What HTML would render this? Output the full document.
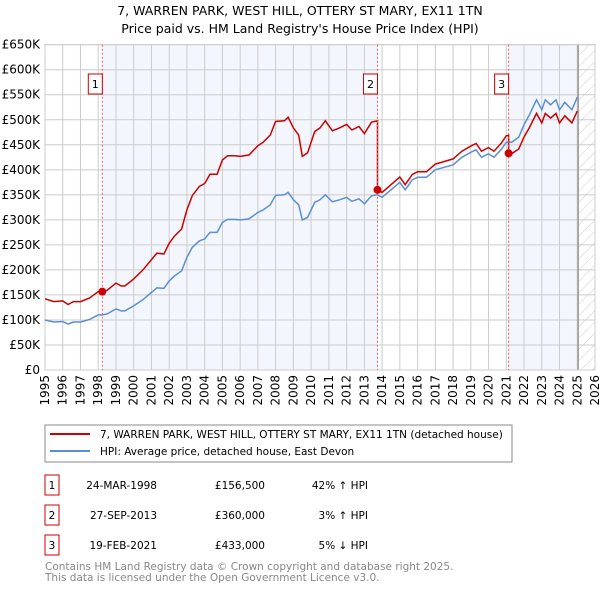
<!DOCTYPE html>
<html><head><meta charset="utf-8"><style>
body{margin:0;background:#fff;font-family:"DejaVu Sans","Liberation Sans",sans-serif;}
svg text{font-family:"DejaVu Sans","Liberation Sans",sans-serif;}
</style></head><body>
<svg id="chart" width="600" height="590" xmlns="http://www.w3.org/2000/svg">
<defs><pattern id="hatch" width="8" height="8" patternUnits="userSpaceOnUse" patternTransform="rotate(45)"><line x1="0" y1="0" x2="0" y2="8" stroke="#ccc" stroke-width="1"/></pattern></defs>
<text x="300" y="15" text-anchor="middle" font-size="12.5" fill="#000">7, WARREN PARK, WEST HILL, OTTERY ST MARY, EX11 1TN</text>
<text x="300" y="33" text-anchor="middle" font-size="12.5" fill="#000">Price paid vs. HM Land Registry's House Price Index (HPI)</text>
<g id="plot"></g>
<rect x="45" y="425" width="467" height="37" fill="#fff" stroke="#888"/>
<line x1="50" y1="434" x2="90" y2="434" stroke="#cc0000" stroke-width="2"/>
<text x="100" y="438" font-size="10.5">7, WARREN PARK, WEST HILL, OTTERY ST MARY, EX11 1TN (detached house)</text>
<line x1="50" y1="451" x2="90" y2="451" stroke="#5b8fd4" stroke-width="2"/>
<text x="100" y="455" font-size="10.5">HPI: Average price, detached house, East Devon</text>
<g id="table" font-size="10.5"></g>
<text x="45" y="570" font-size="10.5" fill="#888">Contains HM Land Registry data © Crown copyright and database right 2025.</text>
<text x="45" y="581" font-size="10.5" fill="#888">This data is licensed under the Open Government Licence v3.0.</text>
</svg>
<script>
const hpiYears=[1995,1995.5,1996,1996.3,1996.6,1997,1997.5,1998,1998.25,1998.5,1999,1999.3,1999.5,2000,2000.5,2001,2001.3,2001.7,2002,2002.3,2002.7,2003,2003.3,2003.7,2004,2004.3,2004.7,2005,2005.3,2005.7,2006,2006.5,2007,2007.3,2007.7,2008,2008.5,2008.7,2009,2009.3,2009.5,2009.8,2010.2,2010.5,2010.8,2011.2,2011.6,2012,2012.3,2012.7,2013,2013.4,2013.74,2014,2014.5,2015,2015.3,2015.7,2016,2016.5,2017,2017.5,2018,2018.5,2019,2019.3,2019.6,2020,2020.3,2020.7,2021,2021.13,2021.3,2021.7,2022,2022.3,2022.7,2023,2023.2,2023.5,2023.8,2024,2024.3,2024.7,2025];
const hpiValues=[100,96,97,92,96,96,101,110,110,112,122,118,118,128,140,155,164,163,178,188,198,225,245,258,262,275,275,295,301,301,300,302,315,320,330,349,350,355,340,330,300,305,335,340,350,336,340,345,337,342,332,348,350,345,360,375,360,380,385,385,400,405,410,425,435,440,425,432,425,440,455,456,455,465,490,510,540,520,540,530,540,520,535,520,545];
const saleYears=[1998.23,2013.74,2021.13];
const salePrices=[156.5,360,433];
const saleLabels=["1","2","3"];
const saleDates=["24-MAR-1998","27-SEP-2013","19-FEB-2021"];
const salePriceText=["£156,500","£360,000","£433,000"];
const saleHpiText=["42% ↑ HPI","3% ↑ HPI","5% ↓ HPI"];
const yTicks=[0,50,100,150,200,250,300,350,400,450,500,550,600,650];
const xTicks=[1995,1996,1997,1998,1999,2000,2001,2002,2003,2004,2005,2006,2007,2008,2009,2010,2011,2012,2013,2014,2015,2016,2017,2018,2019,2020,2021,2022,2023,2024,2025,2026];
const X0=45,X1=595,Y0=370,Y1=44.7,dataEnd=2025.05;
const xs=y=>X0+(y-1995)/31*(X1-X0);
const ys=v=>Y0-v/650*(Y0-Y1);
const NS="http://www.w3.org/2000/svg";
const plot=document.getElementById('plot');
function mk(tag,attrs,parent){const e=document.createElementNS(NS,tag);for(const k in attrs)e.setAttribute(k,attrs[k]);(parent||plot).appendChild(e);return e;}
function hpiAt(t){for(let i=1;i<hpiYears.length;i++){if(t<=hpiYears[i]){const f=(t-hpiYears[i-1])/(hpiYears[i]-hpiYears[i-1]);return hpiValues[i-1]+f*(hpiValues[i]-hpiValues[i-1]);}}return hpiValues[hpiValues.length-1];}
let r=mk('rect',{x:X0,y:Y1,width:X1-X0,height:Y0-Y1,fill:'#fff'});


for(let i=0;i<saleYears.length;i++){const end=i<saleYears.length-1?saleYears[i+1]:dataEnd;if(i===1)continue;const s=mk('rect',{x:xs(saleYears[i]),y:Y1,width:xs(end)-xs(saleYears[i]),height:Y0-Y1,fill:'#f3f6fd'});

}
let h=mk('rect',{x:xs(dataEnd),y:Y1,width:X1-xs(dataEnd),height:Y0-Y1,fill:'url(#hatch)'});


yTicks.forEach(v=>{const l=mk('line',{x1:X0,x2:X1,y1:ys(v),y2:ys(v),stroke:'#ccc','stroke-width':1});


const t=mk('text',{x:X0-5,y:ys(v)+4,'text-anchor':'end','font-size':12});t.textContent=v===0?'£0':'£'+v+'K';

});
xTicks.forEach(y=>{const l=mk('line',{x1:xs(y),x2:xs(y),y1:Y1,y2:Y0,stroke:'#ccc','stroke-width':1});


const t=mk('text',{x:0,y:0,'font-size':12,transform:`translate(${xs(y)+4},${Y0+5}) rotate(-90)`,'text-anchor':'end'});t.textContent=y;

});
let el=mk('line',{x1:xs(dataEnd),x2:xs(dataEnd),y1:Y1,y2:Y0,stroke:'#999','stroke-width':1.5});


let fr=mk('rect',{x:X0,y:Y1,width:X1-X0,height:Y0-Y1,fill:'none',stroke:'#ccc'});


const factors=saleYears.map((s,i)=>salePrices[i]/hpiAt(s));
function redAt(t){let k=0;for(let i=0;i<saleYears.length;i++)if(t>=saleYears[i])k=i;return hpiAt(t)*factors[k];}
let bp='',rp='';
const pts=hpiYears.slice();saleYears.forEach(s=>{pts.push(s-0.001);pts.push(s);});pts.sort((a,b)=>a-b);
pts.forEach((t,i)=>{bp+=(i?'L':'M')+xs(t).toFixed(1)+','+ys(hpiAt(t)).toFixed(1);rp+=(i?'L':'M')+xs(t).toFixed(1)+','+ys(redAt(t)).toFixed(1);});
let bl=mk('path',{d:bp,fill:'none',stroke:'#5b8fd4','stroke-width':1.5});


let rl=mk('path',{d:rp,fill:'none',stroke:'#cc0000','stroke-width':1.5});


saleYears.forEach((s,i)=>{const v=mk('line',{x1:xs(s),x2:xs(s),y1:Y1,y2:Y0,stroke:'#e06060','stroke-dasharray':'2,2','stroke-width':1});


const d=mk('circle',{cx:xs(s),cy:ys(salePrices[i]),r:4,fill:'#cc0000'});


const b=mk('rect',{x:xs(s)-14,y:74,width:14,height:20,fill:'#fff',stroke:'#cc0000'});


const t=mk('text',{x:xs(s)-7,y:88,'text-anchor':'middle','font-size':11});t.textContent=saleLabels[i];

});
const tbl=document.getElementById('table');
const rowY=[485,515,545];
saleYears.forEach((s,i)=>{const y=rowY[i];
const b=mk('rect',{x:45,y:y-10,width:14,height:20,fill:'#fff',stroke:'#cc0000'},tbl);


const a=mk('text',{x:52,y:y+4,'text-anchor':'middle'},tbl);a.textContent=saleLabels[i];


const d=mk('text',{x:157,y:y+4,'text-anchor':'end'},tbl);d.textContent=saleDates[i];


const p=mk('text',{x:265,y:y+4,'text-anchor':'end'},tbl);p.textContent=salePriceText[i];


const q=mk('text',{x:368,y:y+4,'text-anchor':'end'},tbl);q.textContent=saleHpiText[i];

});
</script>
</body></html>
